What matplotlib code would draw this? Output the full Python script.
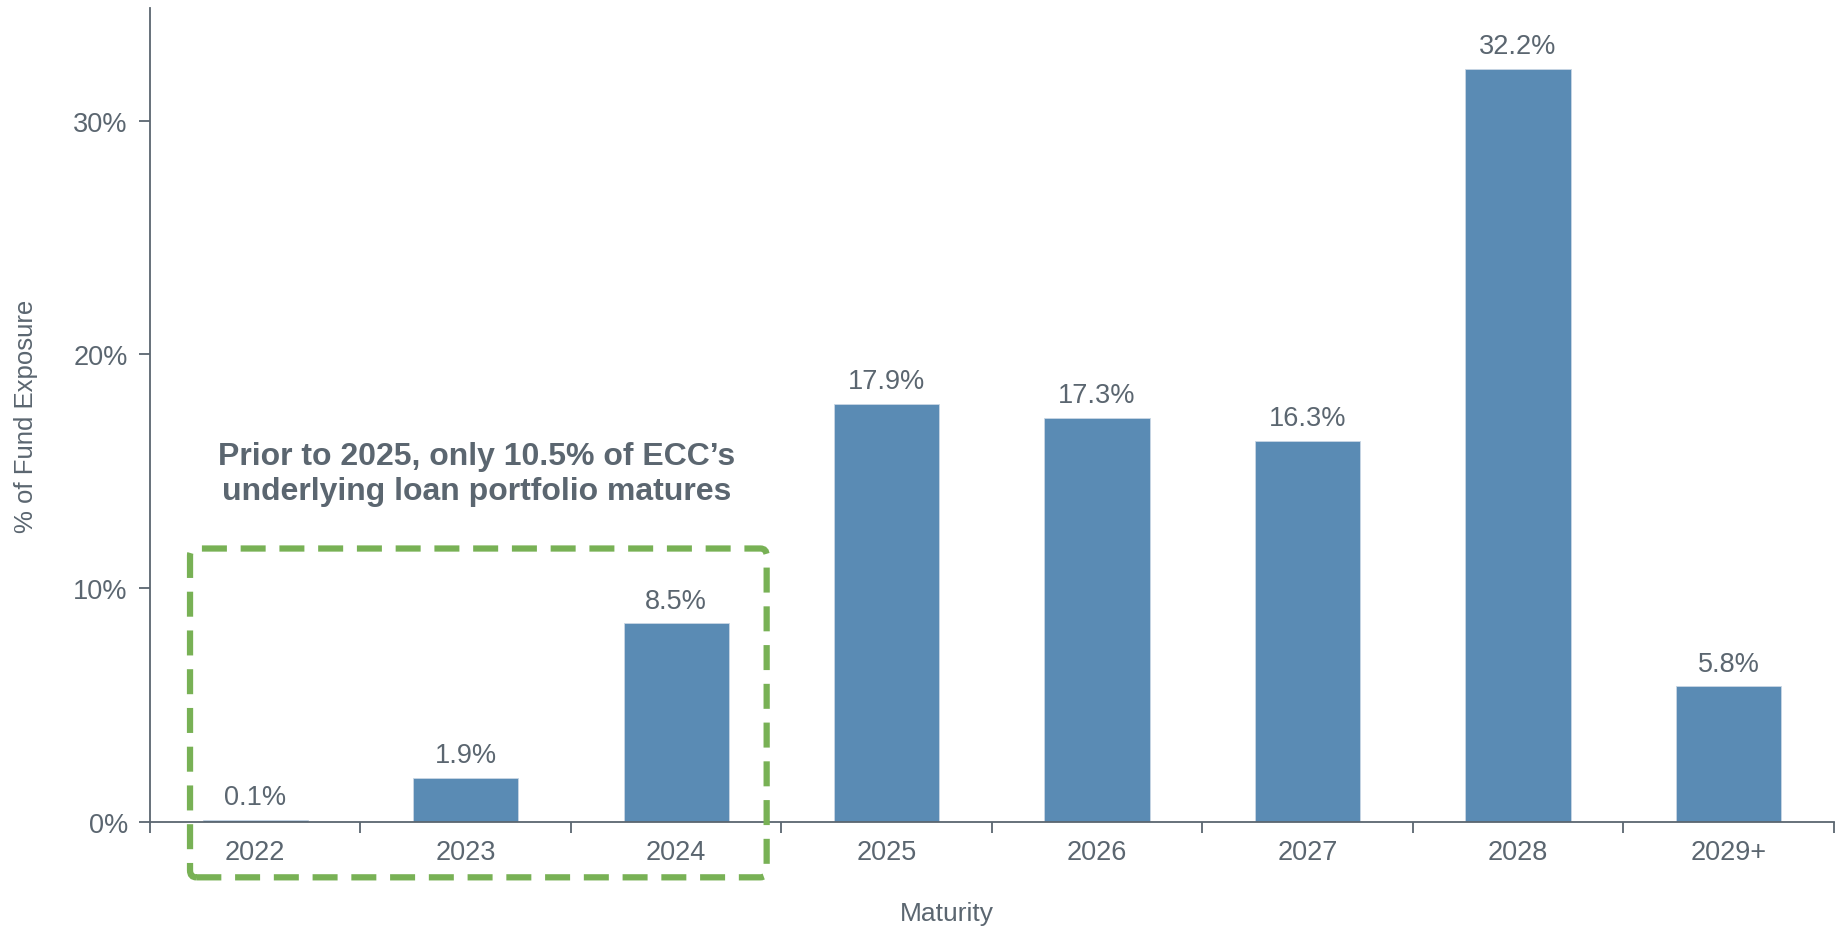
import numpy as np
import matplotlib.pyplot as plt
from matplotlib.patches import FancyBboxPatch

# data
years = ['2022', '2023', '2024', '2025', '2026', '2027', '2028', '2029+']
exposure = [0.1, 1.9, 8.5, 17.9, 17.3, 16.3, 32.2, 5.8]
y_ticks = [0, 10, 20, 30]
y_tick_labels = ['0%', '10%', '20%', '30%']
note = "Prior to 2025, only 10.5% of ECC\u2019s\nunderlying loan portfolio matures"

bar_color = '#5a8bb4'
grey = '#5b6670'
green = '#78b155'

plt.rcParams['font.family'] = ['Liberation Sans', 'DejaVu Sans']

fig = plt.figure(figsize=(18.41, 9.28), dpi=100)
ax = fig.add_axes([0.0815, 0.113, 0.9145, 0.877])

x = np.arange(len(years))
bars = ax.bar(x, exposure, width=0.5, color=bar_color, edgecolor='#c9d7e4', linewidth=0.6, zorder=2)

for xi, v in zip(x, exposure):
    ax.annotate(f'{v:.1f}%', (xi, v), xytext=(0, 7), textcoords='offset points',
                ha='center', va='bottom', fontsize=19.5, color=grey)

ax.set_xlim(-0.5, len(years) - 0.5)
ax.set_ylim(0, 34.8)

ax.set_xticks(x)
ax.set_xticklabels(years, fontsize=19.5, color=grey)
ax.set_xticks(np.arange(-0.5, len(years), 1.0), minor=True)
ax.tick_params(axis='x', which='major', length=0, pad=12)
ax.tick_params(axis='x', which='minor', length=8, width=1.3, color=grey, direction='out')

ax.set_yticks(y_ticks)
ax.set_yticklabels(y_tick_labels, fontsize=19.5, color=grey)
ax.tick_params(axis='y', length=8, width=1.3, color=grey, pad=8)

for s in ['top', 'right']:
    ax.spines[s].set_visible(False)
for s in ['left', 'bottom']:
    ax.spines[s].set_color(grey)
    ax.spines[s].set_linewidth(1.3)

ax.set_xlabel('Maturity', fontsize=19, color=grey)
ax.xaxis.set_label_coords(0.473, -0.097)
ax.set_ylabel('% of Fund Exposure', fontsize=18.5, color=grey)
ax.yaxis.set_label_coords(-0.0663, 0.5)

# dashed callout box around 2022-2024
box = FancyBboxPatch((-0.31, -2.36), 2.74, 14.06,
                     boxstyle='round,pad=0,rounding_size=0.03',
                     fill=False, edgecolor=green, linewidth=4.5,
                     linestyle=(0, (4, 2.2)), clip_on=False, zorder=3,
                     mutation_aspect=10)
ax.add_patch(box)

ax.text(1.05, 14.9, note, ha='center', va='center', fontsize=23, fontweight='bold',
        color=grey, linespacing=1.2)

fig.savefig('out.png', dpi=100)
